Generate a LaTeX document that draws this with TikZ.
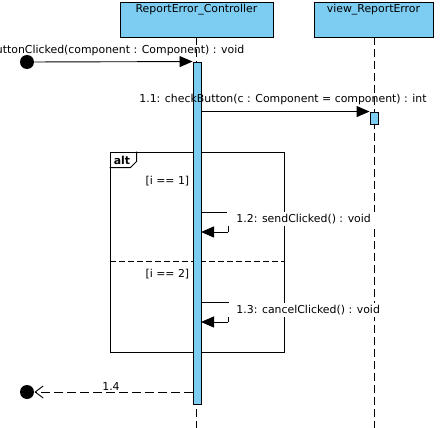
\documentclass[tikz,border=0pt]{standalone}
\usepackage{fontspec}
\setmainfont{DejaVu Sans}
\usepackage{tikz}
\usetikzlibrary{positioning, arrows.meta}
\definecolor{vpblue}{RGB}{125,205,242}

\begin{document}
\begin{tikzpicture}[x=1pt, y=-1pt, line width=0.9pt, font=\fontsize{10.9}{12}\selectfont,
    head/.style={draw, fill=vpblue, inner sep=0pt},
    bar/.style={draw, fill=vpblue, inner sep=0pt, minimum width=8pt},
    lifeline/.style={dash pattern=on 8pt off 4pt},
    call/.style={-{Triangle[length=13pt, width=11pt]}},
    reply/.style={dash pattern=on 9pt off 4pt, -{Straight Barb[length=8pt, width=12pt]}},
    dot/.style={circle, fill=black, inner sep=0pt, minimum size=14pt},
    lbl/.style={inner sep=1pt}]
            \useasboundingbox (0,0) rectangle (442,428);

            %Nodes
            \node[head, minimum width=153pt, minimum height=35pt] at (196.5,19.5) (ctrl) {};
            \node at (196.5,10) (ctrltxt) {ReportError\_Controller};
            \node[head, minimum width=119pt, minimum height=35pt] at (373.5,19.5) (view) {};
            \node at (373.5,10) (viewtxt) {view\_ReportError};
            \coordinate (ctrlend) at (196.5,428);
            \coordinate (viewend) at (374,428);

            %Lifelines
            \draw[lifeline] (ctrl.south) -- (ctrlend);
            \draw[lifeline] (view.south -| viewend) -- (viewend);

            %Fragment
            \node[draw, minimum width=174pt, minimum height=200pt, inner sep=0pt] at (197,252) (alt) {};
            \draw (alt.north west) ++(0,16) -- ++(21,0) -- ++(6,-6) -- ++(0,-10);
            \node[font=\fontsize{10.9}{12}\selectfont\bfseries] at (122,160) (alttxt) {alt};
            \coordinate (sepL) at (110,261);
            \coordinate (sepR) at (284,261);
            \draw[dash pattern=on 6pt off 3pt] (sepL) -- (sepR);
            \node[anchor=east] at (193,181) (g1) {[i == 1]};
            \node[anchor=east] at (193,274) (g2) {[i == 2]};

            %Activations
            \node[bar, minimum height=342pt] at (197,233) (actA) {};
            \node[bar, minimum height=12pt] at (374,118) (actB) {};

            %Messages
            \node[dot] at (27,62) (start) {};
            \draw[call] (start) -- (actA.north west);
            \node[anchor=east] at (248,50) (m1) {buttonClicked(component : Component) : void};

            \draw[call] (actA.east |- actB.north) -- (actB.north west);
            \node at (283,99) (m11) {1.1: checkButton(c : Component = component) : int};

            \coordinate (s2a) at (201,212);
            \coordinate (s2b) at (228,212);
            \coordinate (s2c) at (228,232);
            \coordinate (s2d) at (201,232);
            \draw (s2a) -- (s2b) -- (s2c);
            \draw[call] (s2c) -- (s2d);
            \node[lbl, fill=white, anchor=west, inner xsep=9pt, minimum height=14pt] at (227,219) (m12) {1.2: sendClicked() : void};

            \coordinate (s3a) at (201,302);
            \coordinate (s3b) at (228,302);
            \coordinate (s3c) at (228,322);
            \coordinate (s3d) at (201,322);
            \draw (s3a) -- (s3b) -- (s3c);
            \draw[call] (s3c) -- (s3d);
            \node[lbl, fill=white, anchor=west, inner xsep=9pt, minimum height=14pt] at (227,310) (m13) {1.3: cancelClicked() : void};

            \node[dot] at (27,392) (finish) {};
            \draw[reply] (actA.west |- finish) -- (finish);
            \node[lbl, fill=white, inner xsep=10pt] at (111,387) (m14) {1.4};
        \end{tikzpicture}
\end{document}
